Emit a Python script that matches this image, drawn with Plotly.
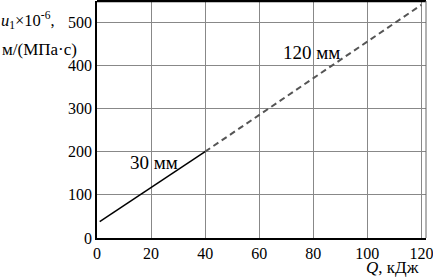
import plotly.graph_objects as go

q_30 = [1, 40]
u_30 = [38, 200]
q_120 = [40, 120]
u_120 = [200, 540]
x_ticks = [0, 20, 40, 60, 80, 100, 120]
y_ticks = [0, 100, 200, 300, 400, 500]

FONT = "Liberation Serif"

fig = go.Figure()
fig.add_trace(go.Scatter(x=q_30, y=u_30, mode="lines",
                         line=dict(color="black", width=1.5), showlegend=False))
fig.add_trace(go.Scatter(x=q_120, y=u_120, mode="lines",
                         line=dict(color="#555555", width=2, dash="6px,4px"), showlegend=False))

fig.update_layout(
    width=433, height=278,
    margin=dict(l=97, r=7, t=1, b=40, autoexpand=False),
    paper_bgcolor="white", plot_bgcolor="white",
    font=dict(family=FONT, size=16, color="black"),
    xaxis=dict(range=[0, 121.7], tickvals=x_ticks, showgrid=True, gridcolor="#888888",
               gridwidth=1, zeroline=False, showline=True, linecolor="black", linewidth=1.5,
               ticks="", ticklen=0, tickfont=dict(family=FONT, size=16),
               ticklabeloverflow="allow"),
    yaxis=dict(range=[0, 549], tickvals=y_ticks, showgrid=True, gridcolor="#888888",
               gridwidth=1, zeroline=False, showline=True, linecolor="black", linewidth=1.5,
               ticks="", ticklen=0, tickfont=dict(family=FONT, size=16),
               ticklabeloverflow="allow"),
)
# top and right frame
fig.add_shape(type="line", xref="paper", yref="paper", x0=0, x1=1, y0=1, y1=1,
              line=dict(color="black", width=2.5))
fig.add_shape(type="line", xref="paper", yref="paper", x0=1, x1=1, y0=0, y1=1,
              line=dict(color="#666666", width=1))

fig.add_annotation(x=30.7, y=176, text="30 мм", showarrow=False, xanchor="right",
                   yanchor="middle", font=dict(size=19))
fig.add_annotation(x=90.6, y=430, text="120 мм", showarrow=False, xanchor="right",
                   yanchor="middle", font=dict(size=19))

fig.add_annotation(xref="paper", yref="paper", x=-0.298, y=1.0, xanchor="left", yanchor="top",
                   text="<i>u</i><sub>1</sub>×10<sup>-6</sup>,", showarrow=False,
                   yshift=-6, font=dict(size=16.5))
fig.add_annotation(xref="paper", yref="paper", x=-0.295, y=0.845, xanchor="left", yanchor="top",
                   text="м/(МПа·с)", showarrow=False, yshift=0, font=dict(size=17))
fig.add_annotation(xref="paper", yref="paper", x=0.985, y=0, xanchor="right", yanchor="top",
                   text="<i>Q</i>, кДж", showarrow=False, yshift=-18, font=dict(size=17))

fig.write_html("out.html", config={"displayModeBar": False},
               post_script="document.body.style.margin='0';document.body.style.padding='0';document.body.style.overflow='hidden';")
